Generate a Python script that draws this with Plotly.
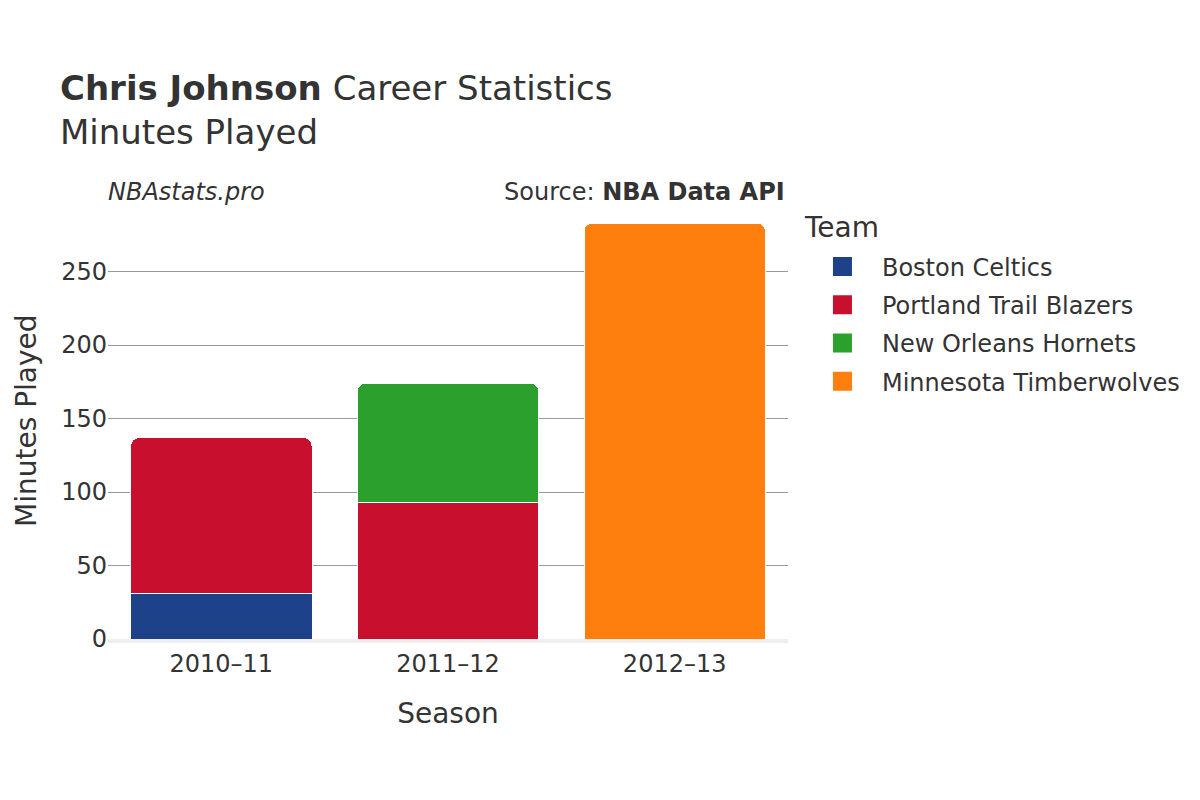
import plotly.graph_objects as go

seasons = ["2010–11", "2011–12", "2012–13"]
teams = ["Boston Celtics", "Portland Trail Blazers", "New Orleans Hornets", "Minnesota Timberwolves"]
colors = ["#1d428a", "#c8102e", "#2ca02c", "#ff7f0e"]
minutes = {
    "Boston Celtics": [31, None, None],
    "Portland Trail Blazers": [106, 93, None],
    "New Orleans Hornets": [None, 81, None],
    "Minnesota Timberwolves": [None, None, 283],
}

fig = go.Figure()
for team, color in zip(teams, colors):
    fig.add_trace(go.Bar(
        x=seasons, y=minutes[team], name=team, showlegend=False,
        legendgroup=team,
        marker=dict(color=color, line=dict(color="white", width=1)),
    ))
for team, color in zip(teams, colors):
    fig.add_trace(go.Scatter(
        x=[None], y=[None], mode="markers", name=team, legendgroup=team,
        marker=dict(symbol="square", size=19, color=color,
                    line=dict(color=color, width=3)),
    ))

font_family = "DejaVu Sans"
fig.update_layout(
    barmode="stack",
    barcornerradius=8,
    bargap=0.2,
    width=1200, height=800,
    plot_bgcolor="white", paper_bgcolor="white",
    font=dict(family=font_family, color="#333333", size=24),
    margin=dict(l=100, r=420, t=193, b=169),
    title=dict(
        text="<b>Chris Johnson</b> Career Statistics<br>Minutes Played",
        x=0.0433, xanchor="left", y=0.885, yanchor="top",
        font=dict(size=34, color="#333333"),
    ),
    xaxis=dict(
        title=dict(text="Season", font=dict(size=28), standoff=28),
        tickfont=dict(size=24),
        showline=True, linecolor="#eeeeee", linewidth=4,
        ticks="", automargin=False,
    ),
    yaxis=dict(
        tickfont=dict(size=24),
        gridcolor="#999999", gridwidth=1,
        zeroline=False,
        dtick=50,
        range=[0, 298],
        automargin=False,
    ),
    legend=dict(
        font=dict(size=24),
        x=1.022, xanchor="left", y=0.9007, yanchor="top",
        traceorder="grouped",
        tracegroupgap=4,
        itemwidth=69,
        itemsizing="trace",
    ),
    annotations=[
        dict(text="Team", xref="paper", yref="paper",
             x=1.0206, y=0.9406, xanchor="left", yanchor="middle",
             showarrow=False, font=dict(size=28, color="#333333")),
        dict(text="Minutes Played", xref="paper", yref="paper",
             x=-0.1206, y=0.5, xanchor="center", yanchor="middle",
             textangle=-90, showarrow=False,
             font=dict(size=28, color="#333333")),
        dict(text="<i>NBAstats.pro</i>", xref="paper", yref="paper",
             x=-0.003, y=1.0, xanchor="left", yanchor="bottom", yshift=-7,
             showarrow=False, font=dict(size=24, color="#333333")),
        dict(text="Source: <b>NBA Data API</b>", xref="paper", yref="paper",
             x=0.998, y=1.0, xanchor="right", yanchor="bottom", yshift=-7,
             showarrow=False, font=dict(size=24, color="#333333")),
    ],
)
fig.write_html("out.html")
